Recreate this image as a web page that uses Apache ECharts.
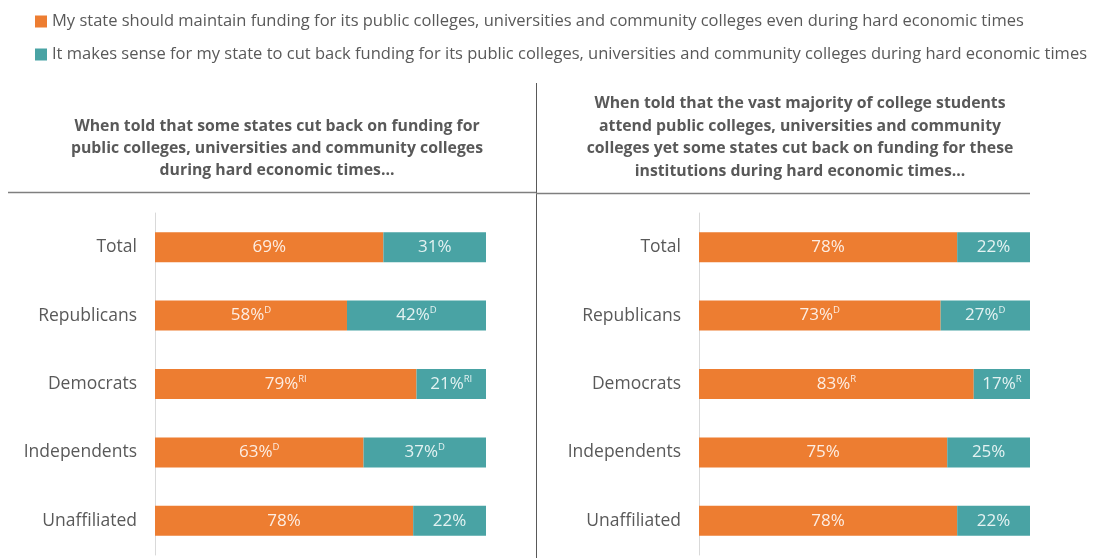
<!DOCTYPE html>
<html>
<head>
<meta charset="utf-8">
<script src="https://cdn.jsdelivr.net/npm/echarts@6/dist/echarts.min.js"></script>
<style>
  html, body { margin: 0; padding: 0; background: #fff; }
  #chart { width: 1102px; height: 558px; }
</style>
</head>
<body>
<div id="chart"></div>
<script>
// Survey groups, top to bottom
const groups = ['Total', 'Republicans', 'Democrats', 'Independents', 'Unaffiliated'];

// Legend wording for the two answers
const maintainName = 'My state should maintain funding for its public colleges, universities and community colleges even during hard economic times';
const cutName = 'It makes sense for my state to cut back funding for its public colleges, universities and community colleges during hard economic times';

// Panel headings
const leftTitle = 'When told that some states cut back on funding for\npublic colleges, universities and community colleges\nduring hard economic times...';
const rightTitle = 'When told that the vast majority of college students\nattend public colleges, universities and community\ncolleges yet some states cut back on funding for these\ninstitutions during hard economic times...';

// Left panel values (%)
const leftMaintain = [69, 58, 79, 63, 78];
const leftCut = [31, 42, 21, 37, 22];
const leftSig = ['', 'D', 'RI', 'D', ''];

// Right panel values (%)
const rightMaintain = [78, 73, 83, 75, 78];
const rightCut = [22, 27, 17, 25, 22];
const rightSig = ['', 'D', 'R', '', ''];

const ORANGE = '#ED7D31';
const TEAL = '#49A3A4';
const TEXT = '#595959';
const FONT = '"Open Sans", Lato, sans-serif';

const chart = echarts.init(document.getElementById('chart'));

function barLabel(sig, color) {
  return {
    show: true,
    position: 'inside',
    formatter: p => sig[p.dataIndex] ? '{v|' + p.value + '%}{s|' + sig[p.dataIndex] + '}' : '{v|' + p.value + '%}',
    rich: {
      v: { fontSize: 17, color: color, fontFamily: FONT, lineHeight: 20 },
      s: { fontSize: 9.5, color: color, fontFamily: FONT, verticalAlign: 'top', lineHeight: 20, padding: [0, 0, 7, 0] }
    }
  };
}

function panelSeries(idx, maintain, cut, sig) {
  return [
    {
      name: maintainName, type: 'bar', stack: 's' + idx, xAxisIndex: idx, yAxisIndex: idx,
      barWidth: 30, data: maintain, itemStyle: { color: ORANGE },
      label: barLabel(sig, '#FDEDE2'), silent: true
    },
    {
      name: cutName, type: 'bar', stack: 's' + idx, xAxisIndex: idx, yAxisIndex: idx,
      barWidth: 30, data: cut, itemStyle: { color: TEAL },
      label: barLabel(sig, '#E4F2F2'), silent: true
    }
  ];
}

const gridTop = 213, gridBottom = 3;

chart.setOption({
  animation: false,
  textStyle: { fontFamily: FONT },
  legend: {
    orient: 'vertical', left: 30, top: 6,
    icon: 'rect', itemWidth: 12, itemHeight: 12, itemGap: 12,
    textStyle: { fontSize: 16.5, color: TEXT, fontFamily: FONT, lineHeight: 21 },
    data: [maintainName, cutName], selectedMode: false
  },
  title: [
    {
      text: leftTitle, left: 272, top: 110, textAlign: 'center',
      textStyle: { fontSize: 15.8, fontWeight: 'bold', color: TEXT, lineHeight: 22, fontFamily: FONT, align: 'center' }
    },
    {
      text: rightTitle, left: 795, top: 87, textAlign: 'center',
      textStyle: { fontSize: 15.8, fontWeight: 'bold', color: TEXT, lineHeight: 22.7, fontFamily: FONT, align: 'center' }
    }
  ],
  grid: [
    { left: 155, width: 331, top: gridTop, bottom: gridBottom },
    { left: 699, width: 331, top: gridTop, bottom: gridBottom }
  ],
  xAxis: [0, 1].map(i => ({
    gridIndex: i, type: 'value', min: 0, max: 100, show: false
  })),
  yAxis: [0, 1].map(i => ({
    gridIndex: i, type: 'category', data: groups, inverse: true,
    axisLine: { show: true, lineStyle: { color: '#D9D9D9', width: 1 } },
    axisTick: { show: false },
    axisLabel: { fontSize: 17.5, color: TEXT, margin: 18, fontFamily: FONT }
  })),
  series: [
    ...panelSeries(0, leftMaintain, leftCut, leftSig),
    ...panelSeries(1, rightMaintain, rightCut, rightSig)
  ],
  graphic: [
    { type: 'line', shape: { x1: 536.5, y1: 83, x2: 536.5, y2: 558 }, style: { stroke: '#595959', lineWidth: 1 }, silent: true },
    { type: 'line', shape: { x1: 8, y1: 192.5, x2: 536, y2: 192.5 }, style: { stroke: '#7F7F7F', lineWidth: 1.5 }, silent: true },
    { type: 'line', shape: { x1: 536, y1: 193.5, x2: 1030, y2: 193.5 }, style: { stroke: '#7F7F7F', lineWidth: 1.5 }, silent: true }
  ]
});
</script>
</body>
</html>
